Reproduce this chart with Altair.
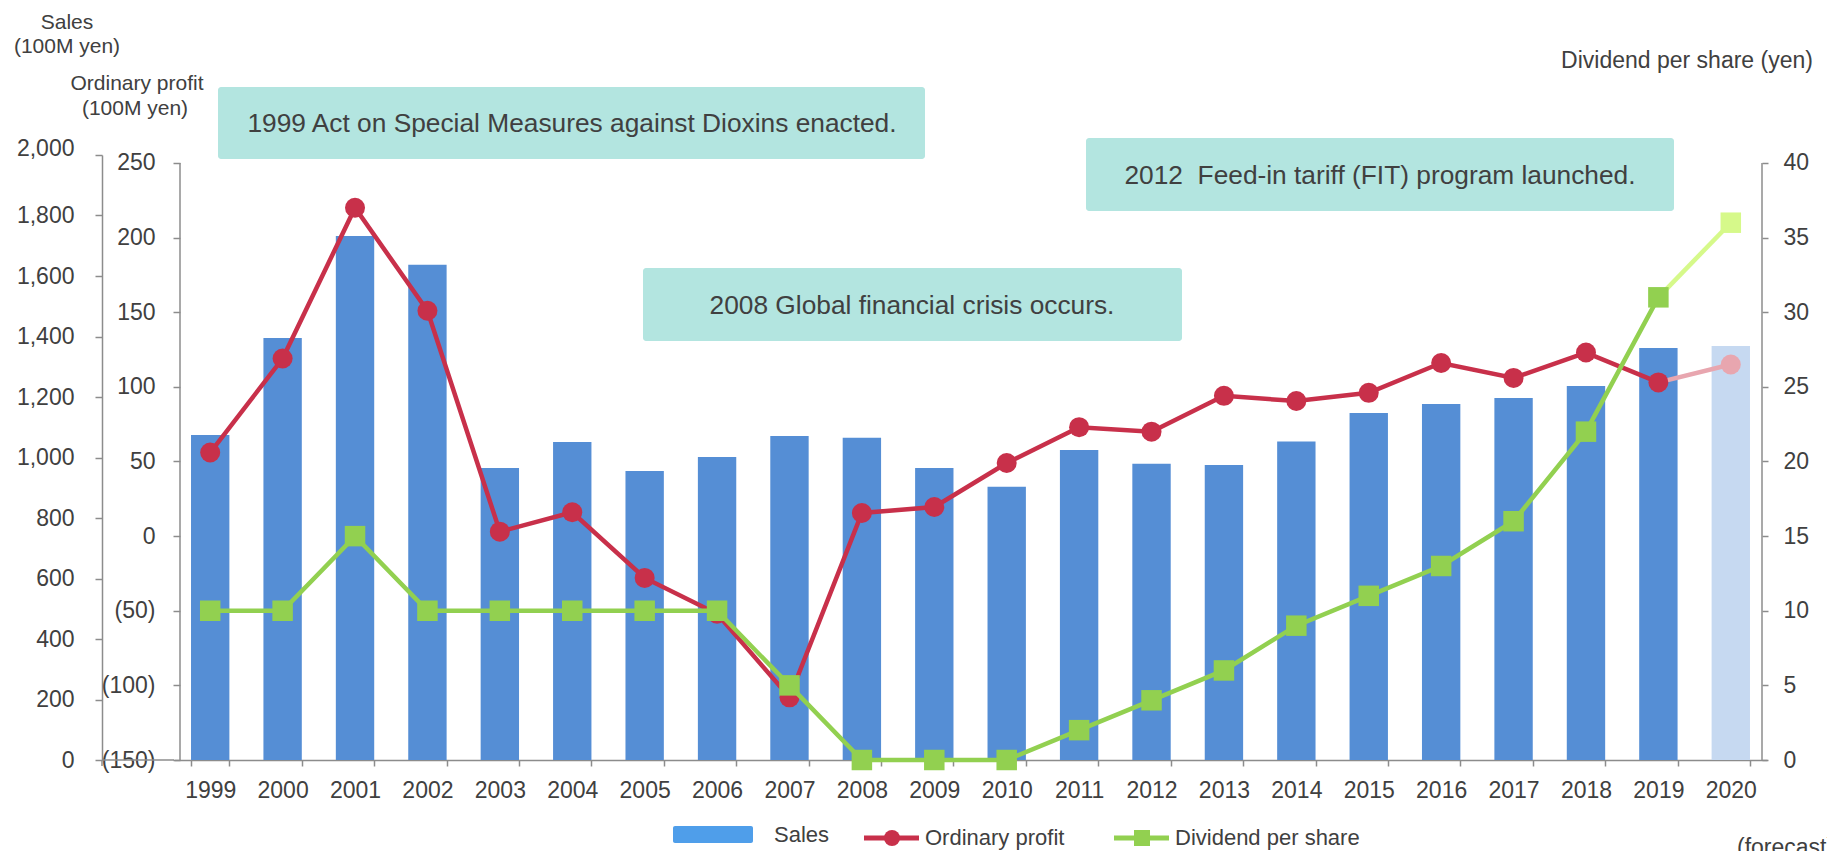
import altair as alt
import pandas as pd

# ---------------- data ----------------
years = [str(y) for y in range(1999, 2021)]
sales = [1074, 1395, 1732, 1637, 965, 1051, 955, 1002, 1071, 1065, 965,
         903, 1025, 979, 975, 1053, 1147, 1177, 1197, 1236, 1362, 1369]
profit = [56, 119, 220, 151, 3, 16, -28, -52, -108, 15.5, 19.5,
          49, 73, 70, 94, 90.5, 96, 116, 106, 123, 103, 115]
dividend = [10, 10, 15, 10, 10, 10, 10, 10, 5, 0, 0,
            0, 2, 4, 6, 9, 11, 13, 16, 22, 31, 36]
forecast_year = "2020"
last_actual_year = "2019"

sales_ticks = [0, 200, 400, 600, 800, 1000, 1200, 1400, 1600, 1800, 2000]
profit_ticks = [-150, -100, -50, 0, 50, 100, 150, 200, 250]
dividend_ticks = [0, 5, 10, 15, 20, 25, 30, 35, 40]

annotations = [
    "1999 Act on Special Measures against Dioxins enacted.",
    "2008 Global financial crisis occurs.",
    "2012\u00a0 Feed-in tariff (FIT) program launched.",
]

# ---------------- style ----------------
FONT = "Liberation Sans"
TXT = "#404040"
AXIS = "#8C8C8C"
BLUE = "#558ED5"
LIGHT = "#C6D9F1"
RED = "#C8304A"
PINK = "#E8A6AF"
GREEN = "#92D050"
PALE = "#D6F98A"
TEAL = "#B3E5E0"
LEG_BLUE = "#4F9EEA"

W, H = 1593, 605

df = pd.DataFrame({"year": years, "sales": sales, "profit": profit, "dividend": dividend})
actual = df[df.year != forecast_year]
fc_seg = df[df.year.isin([last_actual_year, forecast_year])]
fc_pt = df[df.year == forecast_year]

common_axis = dict(labelFont=FONT, labelColor=TXT, domainColor=AXIS, tickColor=AXIS,
                   domainWidth=1.5, tickWidth=1.5, labelFontSize=23, title=None, grid=False)

X = alt.X(
    "year:N", sort=years,
    scale=alt.Scale(paddingInner=0.47, paddingOuter=0.235),
    axis=alt.Axis(labelAngle=0, tickBand="extent", tickSize=6,
                  labelPadding=31, labelBaseline="alphabetic", **common_axis),
)

# sales (bars)
YS = alt.Y(
    "sales:Q", scale=alt.Scale(domain=[0, 2000], nice=False),
    axis=alt.Axis(orient="left", offset=72, values=sales_ticks, format=",.0f",
                  tickSize=7, labelPadding=21,
                  labelBaseline={"condition": {"test": "datum.value == 2000", "value": "alphabetic"},
                                 "value": "middle"},
                  **common_axis),
)
bars = alt.Chart(df).mark_bar().encode(
    x=X, y=YS,
    color=alt.condition(f"datum.year == '{forecast_year}'", alt.value(LIGHT), alt.value(BLUE)),
)

# ordinary profit (line)
YP = alt.Y(
    "profit:Q", scale=alt.Scale(domain=[-150, 255.36], nice=False, zero=False),
    axis=alt.Axis(orient="left", offset=-6, values=profit_ticks,
                  domain=False, tickSize=7, labelPadding=18,
                  labelExpr="datum.value < 0 ? '(' + format(-datum.value, ',.0f') + ')' : format(datum.value, ',.0f')",
                  **common_axis),
)
profit_layer = alt.layer(
    alt.Chart(fc_seg).mark_line(color=PINK, strokeWidth=4.5).encode(x=X, y=YP),
    alt.Chart(actual).mark_line(color=RED, strokeWidth=4.5).encode(x=X, y=YP),
    alt.Chart(fc_pt).mark_circle(color=PINK, size=400, opacity=1).encode(x=X, y=YP),
    alt.Chart(actual).mark_circle(color=RED, size=400, opacity=1).encode(x=X, y=YP),
)

# dividend (line)
YD = alt.Y(
    "dividend:Q", scale=alt.Scale(domain=[0, 40.536], nice=False),
    axis=alt.Axis(orient="right", offset=-5, values=dividend_ticks,
                  domain=False, tickSize=6, labelPadding=15, **common_axis),
)
div_layer = alt.layer(
    alt.Chart(fc_seg).mark_line(color=PALE, strokeWidth=4.5).encode(x=X, y=YD),
    alt.Chart(actual).mark_line(color=GREEN, strokeWidth=4.5).encode(x=X, y=YD),
    alt.Chart(fc_pt).mark_square(color=PALE, size=420, opacity=1).encode(x=X, y=YD),
    alt.Chart(actual).mark_square(color=GREEN, size=420, opacity=1).encode(x=X, y=YD),
)

one = pd.DataFrame({"a": [0]})


def text(s, x, y, size=23, align="center"):
    return alt.Chart(one).mark_text(font=FONT, fontSize=size, color=TXT, align=align,
                                    baseline="alphabetic").encode(
        x=alt.value(x), y=alt.value(y), text=alt.value(s))


def box(x, x2, y, y2):
    return alt.Chart(one).mark_rect(color=TEAL, cornerRadius=3).encode(
        x=alt.value(x), x2=alt.value(x2), y=alt.value(y), y2=alt.value(y2))


def rule(x, x2, y, y2, color=AXIS, w=1.5):
    return alt.Chart(one).mark_rule(color=color, strokeWidth=w).encode(
        x=alt.value(x), x2=alt.value(x2), y=alt.value(y), y2=alt.value(y2))


deco = [
    # annotation boxes
    box(44, 751, -68, 4),
    box(469, 1008, 113, 186),
    box(912, 1500, -17, 56),
    text(annotations[0], 398, -23, 26.3),
    text(annotations[1], 738, 159, 26.3),
    text(annotations[2], 1206, 29, 26.3),
    # axis titles
    text("Sales", -107, -126, 21),
    text("(100M yen)", -107, -102, 21),
    text("Ordinary profit", -37, -65, 21),
    text("(100M yen)", -39, -40, 21),
    text("Dividend per share (yen)", 1513, -87, 23),
    # extra axis lines
    rule(6, 6, 8, H),
    rule(1588, 1588, 8, H),
    rule(-72, 0, H, H),
    rule(-72, -72, H, H + 6),
    # legend
    alt.Chart(one).mark_rect(color=LEG_BLUE, cornerRadius=2).encode(
        x=alt.value(499), x2=alt.value(579), y=alt.value(671), y2=alt.value(688)),
    text("Sales", 600, 687, 22, "left"),
    rule(690, 745, 683, 683, RED, 5),
    alt.Chart(one).mark_circle(color=RED, size=256, opacity=1).encode(
        x=alt.value(718), y=alt.value(683)),
    text("Ordinary profit", 751, 690, 22, "left"),
    rule(940, 995, 683, 683, GREEN, 5),
    alt.Chart(one).mark_square(color=GREEN, size=256, opacity=1).encode(
        x=alt.value(968), y=alt.value(683)),
    text("Dividend per share", 1001, 690, 22, "left"),
    text("(forecast)", 1563, 700, 23, "left"),
]

chart = (
    alt.layer(*deco[:6], bars, profit_layer, div_layer, *deco[6:])
    .resolve_scale(y="independent")
    .resolve_axis(y="independent")
    .properties(
        width=W, height=H,
        padding={"left": 166, "top": 147, "right": 60, "bottom": 91},
        autosize=alt.AutoSizeParams(type="none"),
        view=alt.ViewBackground(stroke="transparent", strokeWidth=0, strokeOpacity=0),
    )
    .configure_view(strokeWidth=0, stroke="transparent", strokeOpacity=0)
    .configure_axis(labelFont=FONT, labelColor=TXT, domainColor=AXIS, tickColor=AXIS)
    .configure(background="white")
)

chart.save("out.html", embed_options={"renderer": "svg", "actions": False})
